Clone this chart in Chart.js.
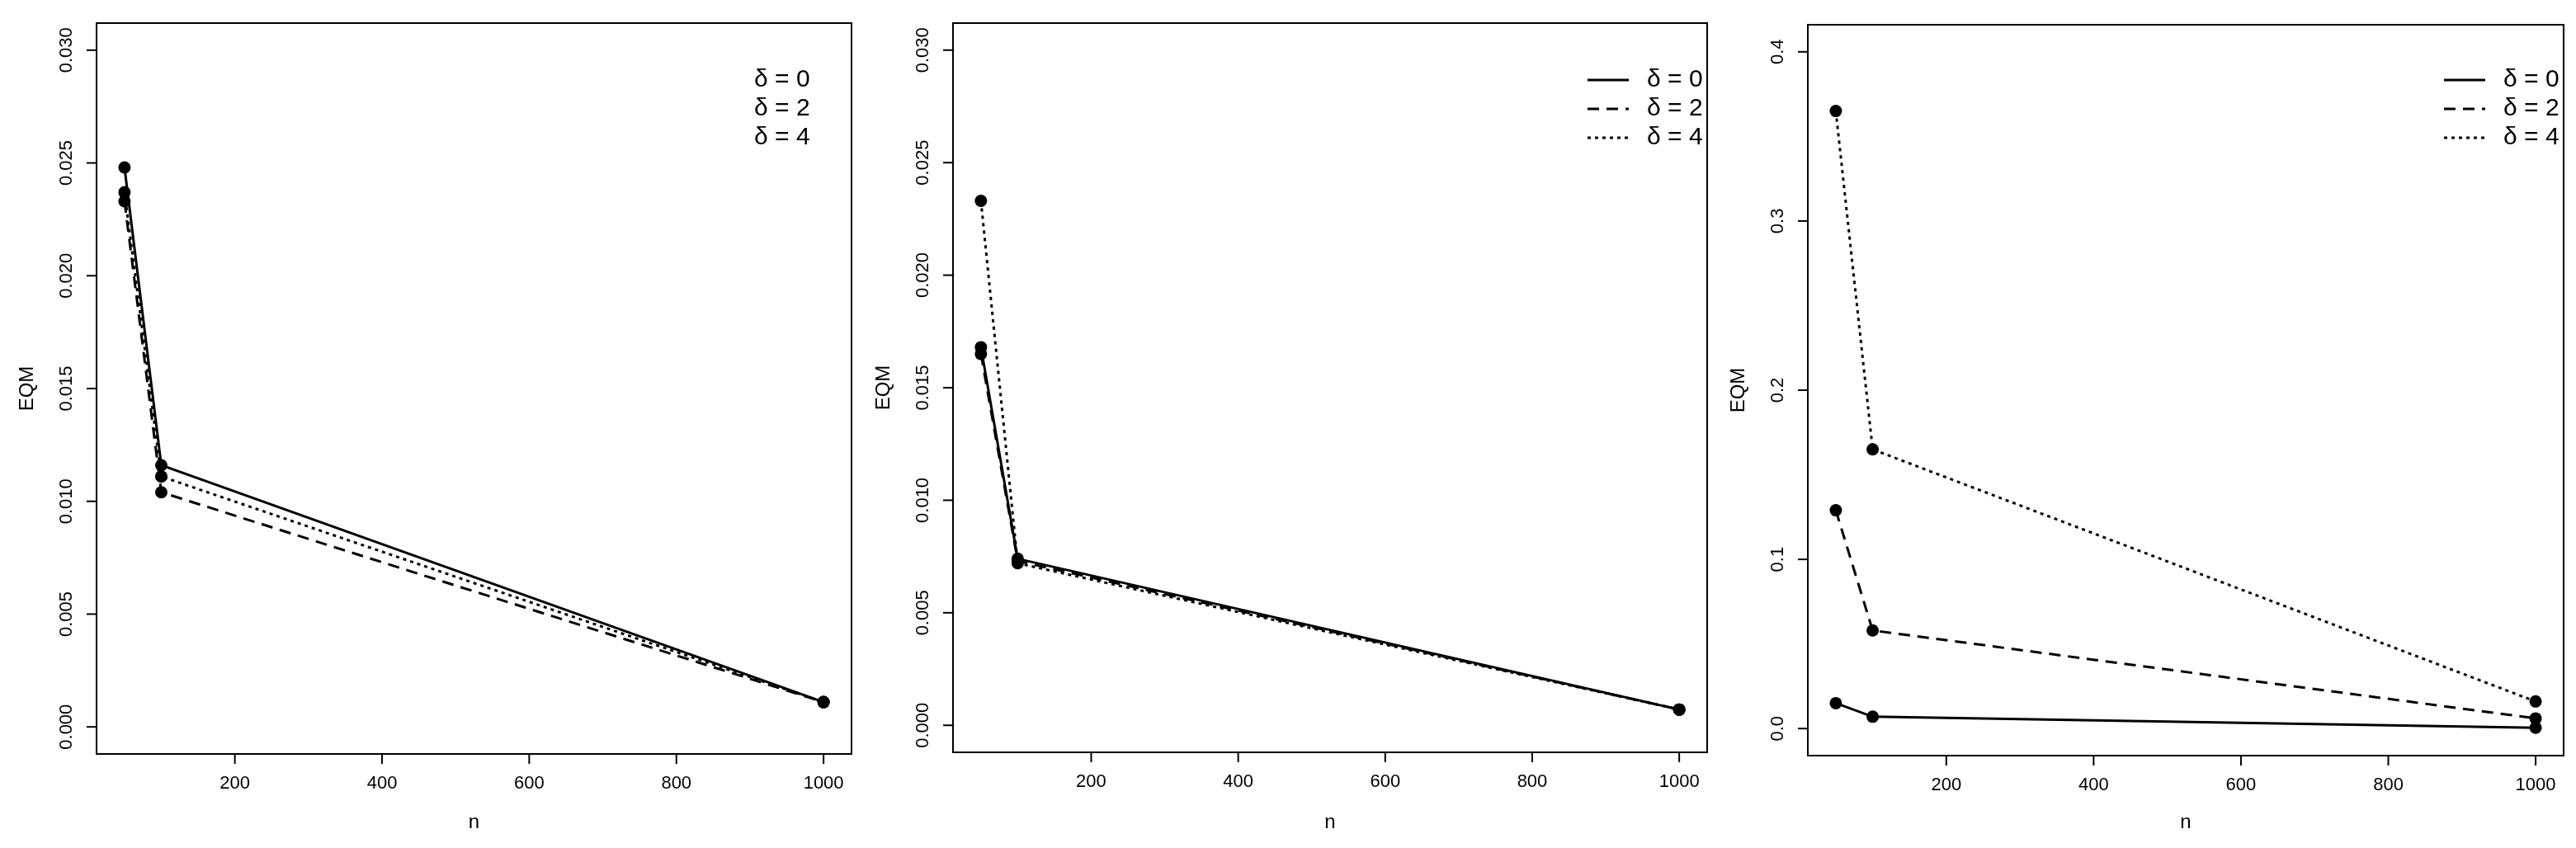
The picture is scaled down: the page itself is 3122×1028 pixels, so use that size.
<!DOCTYPE html>
<html><head><meta charset="utf-8">
<script src="https://cdn.jsdelivr.net/npm/chart.js@4"></script>
<style>body{margin:0;background:#fff;width:3122px;height:1028px;overflow:hidden;display:flex}canvas{display:block}</style>
</head><body>
<div style="width:1040px;height:1028px"><canvas id="c1"></canvas></div>
<div style="width:1040px;height:1028px"><canvas id="c2"></canvas></div>
<div style="width:1042px;height:1028px"><canvas id="c3"></canvas></div>
<script>
const nValues = [50, 100, 1000];
const seriesLabels = ['δ = 0', 'δ = 2', 'δ = 4'];
const xTicks = [200, 400, 600, 800, 1000];
// Panel 1
const p1d0 = [0.0248, 0.0116, 0.0011];
const p1d2 = [0.0233, 0.0104, 0.0011];
const p1d4 = [0.0237, 0.0111, 0.0011];
const p1yTicks = [0, 0.005, 0.010, 0.015, 0.020, 0.025, 0.030];
// Panel 2
const p2d0 = [0.0168, 0.0074, 0.0007];
const p2d2 = [0.0165, 0.0073, 0.0007];
const p2d4 = [0.0233, 0.0072, 0.0007];
const p2yTicks = [0, 0.005, 0.010, 0.015, 0.020, 0.025, 0.030];
// Panel 3
const p3d0 = [0.015, 0.007, 0.0005];
const p3d2 = [0.129, 0.058, 0.006];
const p3d4 = [0.365, 0.165, 0.016];
const p3yTicks = [0, 0.1, 0.2, 0.3, 0.4];

const dashes = [[], [14, 9], [4, 5]];
const FONT = '"Liberation Sans", Arial, sans-serif';

function makeChart(id, series, yTicks, yMin, yMax, dec, pad, legendLines, legendX) {
  const axesPlugin = {
    id: 'rAxes',
    afterDraw(chart) {
      const ctx = chart.ctx, a = chart.chartArea;
      const xs = chart.scales.x, ys = chart.scales.y;
      ctx.save();
      ctx.strokeStyle = '#000'; ctx.fillStyle = '#000'; ctx.lineWidth = 2; ctx.setLineDash([]);
      ctx.strokeRect(a.left, a.top, a.right - a.left, a.bottom - a.top);
      ctx.font = '22px ' + FONT;
      ctx.textAlign = 'center'; ctx.textBaseline = 'middle';
      xTicks.forEach(t => {
        const px = xs.getPixelForValue(t);
        ctx.beginPath(); ctx.moveTo(px, a.bottom); ctx.lineTo(px, a.bottom + 12); ctx.stroke();
        ctx.fillText(String(t), px, a.bottom + 36);
      });
      yTicks.forEach(t => {
        const py = ys.getPixelForValue(t);
        ctx.beginPath(); ctx.moveTo(a.left, py); ctx.lineTo(a.left - 12, py); ctx.stroke();
        ctx.save(); ctx.translate(a.left - 36, py); ctx.rotate(-Math.PI / 2);
        ctx.fillText(t.toFixed(dec), 0, 0); ctx.restore();
      });
      ctx.font = '24px ' + FONT;
      ctx.fillText('n', (a.left + a.right) / 2, 997);
      ctx.save(); ctx.translate(a.left - 84, (a.top + a.bottom) / 2); ctx.rotate(-Math.PI / 2);
      ctx.fillText('EQM', 0, 0); ctx.restore();
      // legend
      ctx.font = '30px ' + FONT; ctx.textAlign = 'left';
      seriesLabels.forEach((lab, i) => {
        const y = 97 + i * 35;
        if (legendLines) {
          ctx.lineWidth = 3; ctx.setLineDash(dashes[i]);
          ctx.beginPath(); ctx.moveTo(legendX - 72, y); ctx.lineTo(legendX - 22, y); ctx.stroke();
          ctx.setLineDash([]);
        }
        ctx.fillText(lab, legendX, y);
      });
      ctx.restore();
    }
  };
  new Chart(document.getElementById(id), {
    type: 'line',
    data: {
      datasets: series.map((s, i) => ({
        label: seriesLabels[i],
        data: nValues.map((n, j) => ({x: n, y: s[j]})),
        borderColor: '#000', backgroundColor: '#000',
        borderWidth: 3, borderDash: dashes[i],
        pointRadius: 7.5, pointHoverRadius: 7.5, pointBackgroundColor: '#000', pointBorderWidth: 0,
        tension: 0, fill: false
      }))
    },
    options: {
      responsive: true, maintainAspectRatio: false, animation: false,
      layout: {padding: pad},
      plugins: {legend: {display: false}, tooltip: {enabled: false}},
      scales: {
        x: {type: 'linear', min: 12, max: 1038, display: false},
        y: {type: 'linear', min: yMin, max: yMax, display: false}
      }
    },
    plugins: [axesPlugin]
  });
}

makeChart('c1', [p1d0, p1d2, p1d4], p1yTicks, -0.0012, 0.0312, 3,
  {left: 117, right: 8, top: 28, bottom: 114}, false, 914);
makeChart('c2', [p2d0, p2d2, p2d4], p2yTicks, -0.0012, 0.0312, 3,
  {left: 115, right: 11, top: 28, bottom: 116}, true, 956);
makeChart('c3', [p3d0, p3d2, p3d4], p3yTicks, -0.016, 0.416, 1,
  {left: 111, right: 15, top: 30, bottom: 112}, true, 954);
</script>
</body></html>
